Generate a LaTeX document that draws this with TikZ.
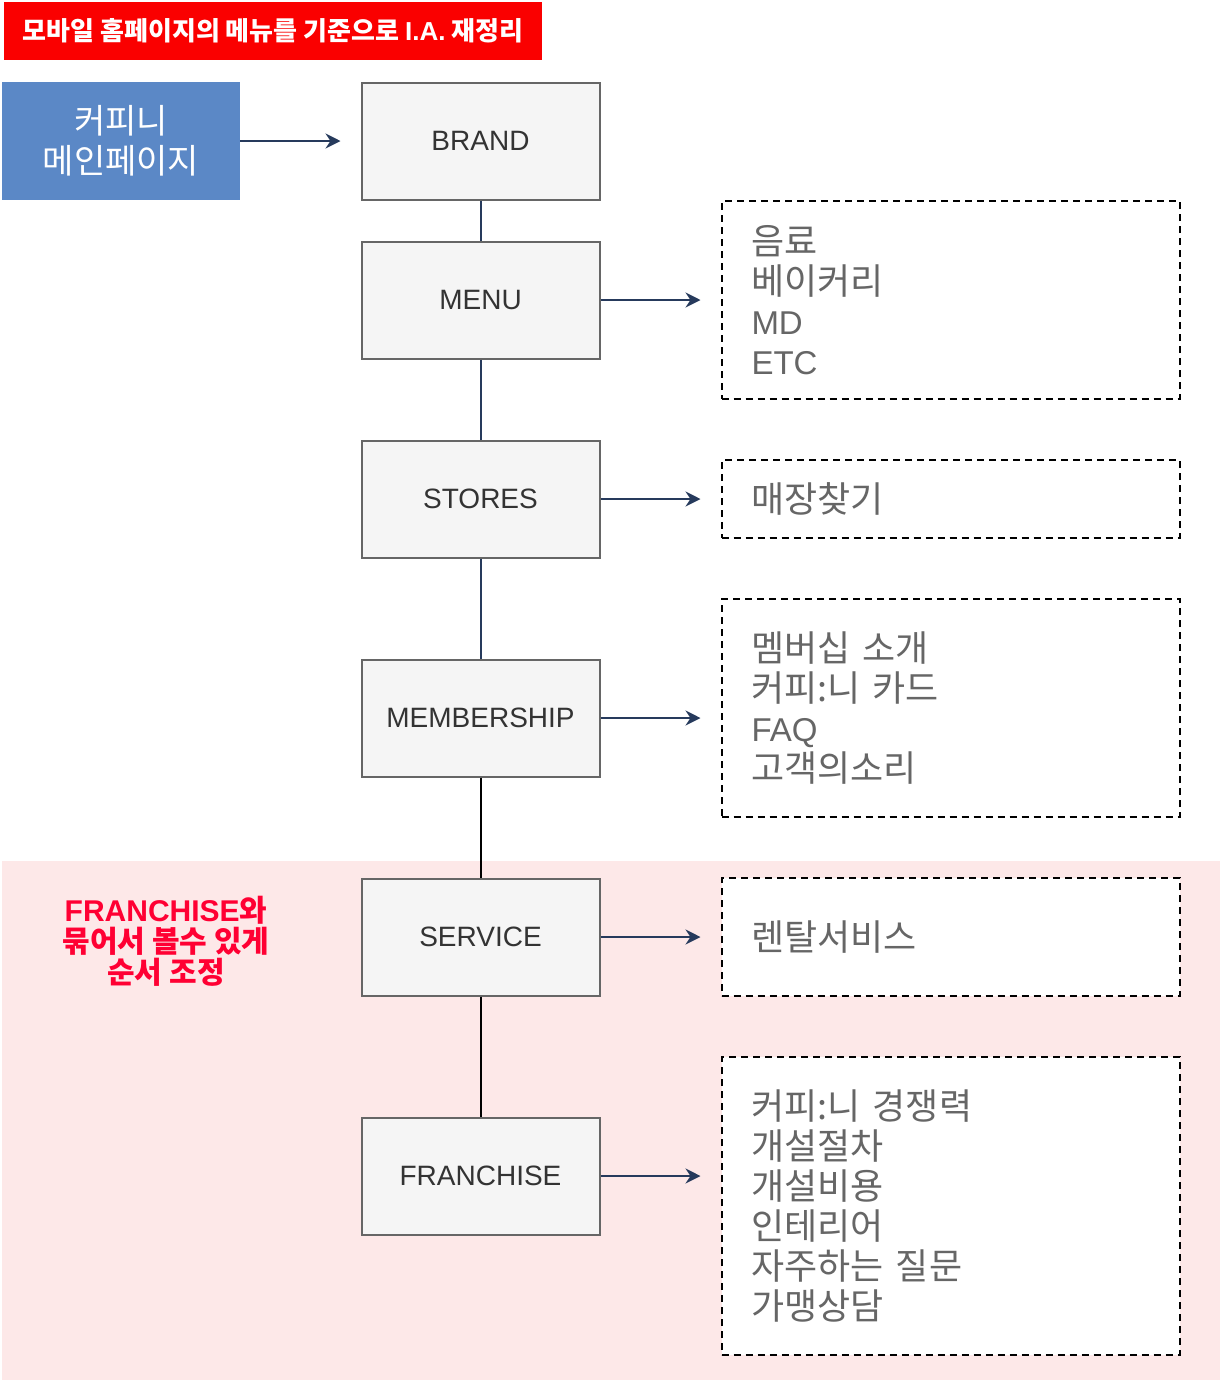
\documentclass[tikz,border=0pt]{standalone}
\usepackage{fontspec}
\setmainfont{Liberation Sans}
\newfontfamily\kr{Noto Sans CJK KR}
\usetikzlibrary{positioning, arrows.meta}

\definecolor{titlered}{HTML}{FA0000}
\definecolor{mainblue}{HTML}{5B88C6}
\definecolor{boxfill}{HTML}{F5F5F5}
\definecolor{boxline}{HTML}{666666}
\definecolor{boxtext}{HTML}{333333}
\definecolor{listtext}{HTML}{666666}
\definecolor{navy}{HTML}{263A5C}
\definecolor{pinkbg}{HTML}{FDE8E8}
\definecolor{notered}{HTML}{FF0033}

% texte latin dans les listes
\newcommand{\lat}[1]{{\rmfamily\fontsize{33}{40}\selectfont #1}}

\begin{document}
\begin{tikzpicture}[
    x=1pt, y=-1pt,
    titlebox/.style={rectangle, fill=titlered, minimum width=538pt, minimum height=58pt, text=white, font=\kr\bfseries\fontsize{26}{30}\selectfont},
    mainbox/.style={rectangle, fill=mainblue, minimum width=238pt, minimum height=118pt, align=center, text=white, font=\kr\fontsize{34}{40}\selectfont},
    menubox/.style={rectangle, draw=boxline, fill=boxfill, line width=2pt, minimum width=238pt, minimum height=117pt, text=boxtext, font=\fontsize{28}{32}\selectfont},
    listbox/.style={rectangle, draw=black, fill=white, line width=2pt, dash pattern=on 7pt off 5pt, text width=398pt, inner xsep=30pt, align=left, text=listtext, font=\kr\fontsize{36}{40}\selectfont},
    notetext/.style={align=center, text=notered, font=\kr\bfseries\fontsize{30}{31}\selectfont},
    conn/.style={draw=navy, line width=2pt},
    arr/.style={conn, -{Stealth[length=15pt, width=15pt, inset=5pt]}}
  ]
  \useasboundingbox (0,0) rectangle (1222,1382);

  % zone FRANCHISE / SERVICE
  \fill[pinkbg] (2,861) rectangle (1220,1380);

  % ---------------- titre + page principale ----------------
  \node (title) [titlebox] at (273,31) {모바일 홈페이지의 메뉴를 기준으로 {\rmfamily I.A.} 재정리};
  \node (main) [mainbox] at (121,141) {커피니\\메인페이지};

  % ---------------- menus ----------------
  \node (brand) [menubox] at (480.5,141) {BRAND};
  \node (menu) [menubox, below=40pt of brand] {MENU};
  \node (stores) [menubox, below=80pt of menu] {STORES};
  \node (membership) [menubox, below=100pt of stores] {MEMBERSHIP};
  \node (service) [menubox, below=100pt of membership] {SERVICE};
  \node (franchise) [menubox, below=120pt of service] {FRANCHISE};

  % ---------------- sous-menus ----------------
  \node (menulist) [listbox, minimum height=198pt, right=120pt of menu] {음료\\베이커리\\\lat{MD}\\\lat{ETC}};
  \node (storeslist) [listbox, minimum height=78pt, right=120pt of stores] {매장찾기};
  \node (membershiplist) [listbox, minimum height=218pt, right=120pt of membership, yshift=10pt] {멤버십 소개\\커피:니 카드\\\lat{FAQ}\\고객의소리};
  \node (servicelist) [listbox, minimum height=118pt, right=120pt of service] {렌탈서비스};
  \node (franchiselist) [listbox, minimum height=298pt, right=120pt of franchise, yshift=-30pt] {커피:니 경쟁력\\개설절차\\개설비용\\인테리어\\자주하는 질문\\가맹상담};

  % note
  \node (note) [notetext] at (166,941) {{\rmfamily FRANCHISE}와\\묶어서 볼수 있게\\순서 조정};

  % ---------------- liens ----------------
  \coordinate (brandtip) at ([xshift=-20pt]brand.west);
  \draw[arr] (main.east) -- (brandtip);

  \draw[conn] (brand) -- (menu);
  \draw[conn] (menu) -- (stores);
  \draw[conn] (stores) -- (membership);
  \draw[conn, draw=black] (membership) -- (service);
  \draw[conn, draw=black] (service) -- (franchise);

  \foreach \b in {menu, stores, membership, service, franchise} {
    \coordinate (\b tip) at ([xshift=100pt]\b.east);
    \draw[arr] (\b.east) -- (\b tip);
  }
\end{tikzpicture}
\end{document}
